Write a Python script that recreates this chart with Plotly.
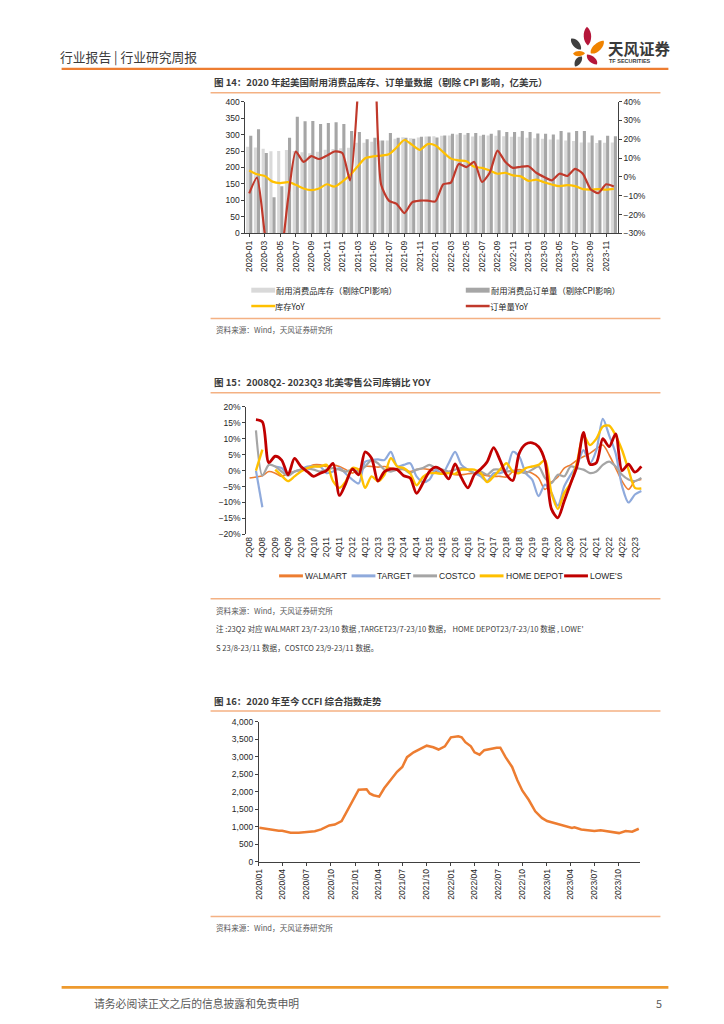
import plotly.graph_objects as go

W, H = 724, 1024
CJK = "Noto Sans CJK SC"
NUM = "Liberation Sans"


def px(x):
    return x / W


def py(y):
    return 1 - y / H


# ---------------- Chart 1 data (figure 14) ----------------
months = [f"{y}-{m:02d}" for y in range(2020, 2024) for m in range(1, 13)]
month_ticks = months[::2]
inv_level = [263, 261, 257, 249, 250, 253, 250, 246, 243, 248, 254, 256,
             258, 260, 275, 275, 278, 282, 282, 287, 292, 289, 291, 294,
             295, 296, 297, 300, 299, 294, 296, 297, 296, 295, 293, 293,
             290, 289, 287, 285, 285, 282, 280, 276, 276, 274, 275, 276]
order_level = [296, 316, 244, 110, 143, 290, 354, 340, 341, 332, 335, 337,
               332, 311, 308, 286, 290, 282, 305, 290, 290, 287, 293, 294,
               291, 297, 302, 305, 305, 305, 299, 302, 313, 308, 308, 311,
               308, 303, 302, 300, 311, 306, 311, 311, 297, 283, 296, 295]
inv_yoy = [3.4, 1.4, 0.5, -2.5, -3.3, -2.8, -4.2, -6.1, -7.0, -6.1, -3.9, -5.1,
           -2.5, 1.0, 5.7, 10.0, 10.9, 11.3, 12.0, 15.6, 19.6, 17.0, 14.4, 17.4,
           16.7, 13.2, 9.7, 8.8, 8.3, 5.4, 4.8, 3.4, 1.7, 2.2, 0.8, 0.3,
           -2.1, -1.4, -2.8, -4.0, -4.9, -4.4, -4.9, -6.5, -6.7, -6.5, -6.7, -6.3]
order_yoy = [-8.7, -0.4, -30.0, -56.0, -45.0, -12.0, 13.5, 8.0, 11.0, 9.5, 11.3, 13.5,
             12.7, -1.8, 45.0, 160.0, 100.0, -4.0, -12.6, -14.3, -19.2, -13.5, -12.6, -12.6,
             -13.0, -4.0, -3.0, 6.9, 5.2, 8.0, -2.7, 2.2, 14.0, 8.0, 4.8, 5.4,
             5.7, 2.2, 0.0, -1.8, 1.7, 0.5, 4.3, 1.7, -6.5, -8.6, -3.9, -5.1]

# ---------------- Chart 2 data (figure 15) ----------------
quarters = (["2Q08", "3Q08", "4Q08"]
            + [f"{q}Q{y:02d}" for y in range(9, 23) for q in range(1, 5)]
            + ["1Q23", "2Q23", "3Q23"])
quarter_ticks = quarters[::2]
walmart = [-2.3, -2.0, -1.6, -0.3, -0.8, -1.8, -0.8, -0.3, 0.3, 1.0, 1.8, 1.8,
           1.3, 1.8, 1.3, 0.3, -0.8, 0.3, 1.3, 1.3, 1.1, 1.3, 0.8, 0.5,
           0.3, -0.3, 0.3, 0.6, 0.3, -0.3, -0.8, -0.8, -1.3, -1.3, -1.0, -0.8,
           -1.1, -1.6, -1.8, -1.8, -2.0, -0.3, 0.3, -0.3, -0.8, -2.3, -5.9, -3.6,
           -2.0, 0.8, 1.8, 3.3, 4.4, 5.4, 6.9, 8.0, 4.9, 0.8, -3.3, -5.9,
           -3.3, -2.8]
target = [None, 0.0, -11.5, None, 1.3, 0.8, -1.3, -0.3, 0.3, 1.3, 1.3, 1.3,
          -0.8, -0.3, 0.8, -1.0, -2.8, -4.0, 2.8, 3.3, 3.5, 3.3, 5.9, 1.3,
          1.8, 2.3, -1.8, -3.6, -2.8, 0.3, -1.0, 2.3, 5.9, 1.8, 0.3, -0.8,
          -1.8, -3.3, -0.8, -0.8, 0.3, 5.9, 4.4, -0.8, -2.8, -8.0, -4.4, -7.0,
          -11.0, -4.9, -1.3, 1.8, 6.4, 2.3, 6.4, 16.2, 11.0, 5.4, -4.9, -10.0,
          -7.5, -6.4]
costco = [None, 12.6, -1.6, 1.8, 1.3, -0.3, -1.6, -0.3, 0.3, 0.6, 0.3, -0.3,
          0.3, 0.8, 0.3, -0.3, 0.3, -0.3, 1.3, 3.3, 2.3, 0.3, -0.3, 0.3,
          0.5, -0.8, 0.3, 0.8, 1.8, 0.8, 0.3, -0.3, 0.3, 0.8, 0.3, -0.8,
          -0.3, -1.3, 0.3, 0.3, -0.3, 0.0, -0.3, -0.8, 0.3, 1.3, -2.3, -3.9,
          -1.3, -1.8, 1.3, 0.8, 0.3, -0.8, -0.3, 1.8, 2.8, 1.3, -1.3, -2.8,
          -3.3, -2.3]
home_depot = [None, 0.0, 6.6, None, 0.3, -1.6, -3.3, -1.8, -0.3, 0.8, 1.3, 1.3,
              1.8, -3.3, -5.4, -3.3, 0.8, 0.3, -5.4, -1.8, -3.3, -1.3, 3.9, 1.3,
              0.8, -0.8, -4.6, -2.0, -0.8, -0.8, -1.0, -0.8, -1.0, 0.3, 0.3, 0.3,
              -0.8, -3.6, -1.8, 0.3, 2.3, -0.3, -0.8, 0.8, 1.3, 1.8, 3.3, -7.0,
              -12.0, -7.0, -3.9, 2.8, 11.0, 8.0, 10.0, 13.8, 14.1, 11.0, 6.4, 0.3,
              -5.4, -5.6]
lowes = [None, 16.0, 15.3, 2.5, 4.5, 3.3, -1.3, 3.8, 1.3, -0.3, -1.8, -0.8,
         0.0, 2.3, -7.8, -3.9, 0.5, -1.3, 5.9, 3.9, -3.3, -0.3, 0.5, 0.3,
         -1.6, -2.3, -7.1, -3.9, -0.3, 1.1, 0.0, -2.6, 2.1, -2.3, -5.4, -1.3,
         0.5, 2.8, 7.2, 3.3, -1.3, -3.1, 5.5, 8.3, 8.7, 7.5, 3.0, -12.0,
         -14.8, -9.5, -4.0, 1.5, 12.0, 2.0, 2.5, 10.0, 7.5, 11.5, 0.0, 2.0,
         -0.5, 1.3]

# ---------------- Chart 3 data (figure 16) ----------------
ccfi_dates = ["2020-01-03", "2020-01-28", "2020-02-16", "2020-03-17", "2020-03-30",
              "2020-04-18", "2020-05-01", "2020-06-01", "2020-07-02", "2020-08-01",
              "2020-08-25", "2020-09-25", "2020-10-16", "2020-10-30", "2020-11-11",
              "2020-11-25", "2020-12-10", "2020-12-25", "2021-01-08", "2021-01-15",
              "2021-02-14", "2021-02-26", "2021-03-12", "2021-04-03", "2021-04-22",
              "2021-05-15", "2021-06-10", "2021-06-30", "2021-07-18", "2021-08-12",
              "2021-09-13", "2021-10-01", "2021-10-26", "2021-11-15", "2021-12-09",
              "2022-01-01", "2022-01-29", "2022-02-11", "2022-02-25", "2022-03-18",
              "2022-04-01", "2022-04-20", "2022-05-08", "2022-06-03", "2022-06-24",
              "2022-07-08", "2022-07-28", "2022-08-22", "2022-09-11", "2022-09-30",
              "2022-10-24", "2022-11-18", "2022-12-13", "2023-01-02", "2023-01-20",
              "2023-02-10", "2023-03-10", "2023-04-07", "2023-04-16", "2023-05-12",
              "2023-06-06", "2023-07-01", "2023-07-25", "2023-09-02", "2023-10-03",
              "2023-10-28", "2023-11-22", "2023-12-17"]
ccfi_values = [969, 941, 903, 885, 885,
               856, 828, 828, 856, 870,
               922, 1035, 1060, 1110, 1160,
               1350, 1550, 1760, 1970, 2060,
               2070, 1950, 1900, 1860, 2100,
               2330, 2570, 2710, 2990, 3130,
               3260, 3320, 3275, 3210, 3300,
               3560, 3590, 3560, 3420, 3300,
               3130, 3060, 3190, 3240, 3260,
               3260, 2990, 2710, 2330, 2030,
               1770, 1440, 1250, 1160, 1120,
               1080, 1010, 965, 980, 920,
               900, 875, 895, 855, 815,
               875, 855, 940]

# ---------------- colours ----------------
C_LIGHT = "#D9D9D9"
C_DARK = "#A6A6A6"
C_YEL = "#FFC000"
C_RED1 = "#C0392B"
C_WAL = "#ED7D31"
C_TGT = "#8FAADC"
C_CST = "#A5A5A5"
C_HD = "#FFC000"
C_LOW = "#C00000"
C_AX = "#404040"
C_SEP = "#F4B183"

fig = go.Figure()

# Chart 1 traces
fig.add_trace(go.Bar(x=months, y=inv_level, marker_color=C_LIGHT, marker_line_width=0,
                     xaxis="x", yaxis="y", offsetgroup="a", name="耐用消费品库存（剔除CPI影响）"))
fig.add_trace(go.Bar(x=months, y=order_level, marker_color=C_DARK, marker_line_width=0,
                     xaxis="x", yaxis="y", offsetgroup="b", name="耐用消费品订单量（剔除CPI影响）"))
fig.add_trace(go.Scatter(x=months, y=inv_yoy, mode="lines", xaxis="x", yaxis="y2",
                         line=dict(color=C_YEL, width=2.2, shape="spline", smoothing=0.8),
                         name="库存YoY"))
fig.add_trace(go.Scatter(x=months, y=order_yoy, mode="lines", xaxis="x", yaxis="y2",
                         line=dict(color=C_RED1, width=2.2, shape="spline", smoothing=0.6),
                         name="订单量YoY"))

# Chart 2 traces
for vals, col, wid, nm in [(walmart, C_WAL, 1.6, "WALMART"), (target, C_TGT, 2.2, "TARGET"),
                           (costco, C_CST, 2.2, "COSTCO"), (home_depot, C_HD, 2.4, "HOME DEPOT"),
                           (lowes, C_LOW, 2.8, "LOWE'S")]:
    fig.add_trace(go.Scatter(x=quarters, y=vals, mode="lines", xaxis="x3", yaxis="y3",
                             connectgaps=False,
                             line=dict(color=col, width=wid, shape="spline", smoothing=0.8),
                             name=nm))

# Chart 3 trace
fig.add_trace(go.Scatter(x=ccfi_dates, y=ccfi_values, mode="lines", xaxis="x4", yaxis="y4",
                         line=dict(color=C_WAL, width=2.5), name="CCFI"))

tickfont = dict(family=NUM, size=8.5, color="#262626")

c1 = dict(l=242, r=617, t=97.5, b=230.7)
c2 = dict(l=243, r=644, t=405.8, b=534.6)
c3 = dict(l=255.6, r=639.5, t=724, b=865)

zero_y2 = c2["t"] + (c2["b"] - c2["t"]) * 0.5

fig.update_layout(
    width=W, height=H, margin=dict(l=0, r=0, t=0, b=0),
    paper_bgcolor="white", plot_bgcolor="white", showlegend=False,
    barmode="group", bargap=0.2, bargroupgap=0.0,
    font=dict(family=CJK, size=9, color="#262626"),
    xaxis=dict(domain=[px(c1["l"]), px(c1["r"])], anchor="y", type="category",
               tickvals=month_ticks, tickangle=-90, tickfont=tickfont,
               showline=True, linecolor=C_AX, linewidth=1, ticks="outside", ticklen=3,
               tickcolor=C_AX, showgrid=False, range=[-0.5, 47.5]),
    yaxis=dict(domain=[py(c1["b"]), py(c1["t"])], anchor="x", range=[0, 400], dtick=50,
               tickfont=tickfont, showline=True, linecolor=C_AX, ticks="outside",
               ticklen=3, tickcolor=C_AX, showgrid=False, zeroline=False),
    yaxis2=dict(overlaying="y", side="right", anchor="x", range=[-30, 40], dtick=10,
                ticksuffix="%", tickfont=tickfont, showline=True, linecolor=C_AX,
                ticks="outside", ticklen=3, tickcolor=C_AX, showgrid=False, zeroline=False),
    xaxis3=dict(domain=[px(c2["l"]), px(c2["r"])], anchor="y3", type="category",
                tickvals=quarter_ticks, tickangle=-90, tickfont=tickfont,
                showline=False, ticks="", showgrid=False, range=[-0.5, 61.5]),
    xaxis5=dict(overlaying="x3", anchor="free", position=py(zero_y2), range=[-0.5, 61.5],
                showline=True, linecolor=C_AX, linewidth=1, ticks="outside", ticklen=3,
                tickcolor=C_AX, tickvals=[i + 0.5 for i in range(-1, 61, 2)],
                showticklabels=False, showgrid=False, zeroline=False),
    yaxis3=dict(domain=[py(c2["b"]), py(c2["t"])], anchor="x3", range=[-20, 20], dtick=5,
                ticksuffix="%", tickfont=tickfont, showline=True, linecolor=C_AX,
                ticks="outside", ticklen=3, tickcolor=C_AX, showgrid=False, zeroline=False),
    xaxis4=dict(domain=[px(c3["l"]), px(c3["r"])], anchor="y4", type="date",
                range=["2020-01-01", "2023-12-22"], dtick="M3", tick0="2020-01-01",
                tickformat="%Y/%m", tickangle=-90, tickfont=tickfont,
                showline=True, linecolor=C_AX, ticks="outside", ticklen=3,
                tickcolor=C_AX, showgrid=False),
    yaxis4=dict(domain=[py(c3["b"]), py(c3["t"])], anchor="x4", range=[0, 4000], dtick=500,
                tickformat=",", tickfont=tickfont, showline=True, linecolor=C_AX,
                ticks="outside", ticklen=3, tickcolor=C_AX, showgrid=False, zeroline=False),
)

shapes = []
annotations = []


def hline(x0, x1, y, color, width):
    shapes.append(dict(type="line", xref="paper", yref="paper", x0=px(x0), x1=px(x1),
                       y0=py(y), y1=py(y), line=dict(color=color, width=width)))


def rect(x0, x1, y0, y1, color):
    shapes.append(dict(type="rect", xref="paper", yref="paper", x0=px(x0), x1=px(x1),
                       y0=py(y1), y1=py(y0), fillcolor=color, line=dict(width=0)))


def text(x, y, s, size=9, color="#262626", family=CJK, xanchor="left"):
    annotations.append(dict(x=px(x), y=py(y), xref="paper", yref="paper", text=s,
                            showarrow=False, xanchor=xanchor, yanchor="middle",
                            font=dict(size=size, color=color, family=family)))


def petal(pts, color):
    (x0, y0), (a1, b1), (a2, b2), (x3, y3), (a4, b4), (a5, b5) = pts
    path = (f"M {px(x0)},{py(y0)} C {px(a1)},{py(b1)} {px(a2)},{py(b2)} {px(x3)},{py(y3)} "
            f"C {px(a4)},{py(b4)} {px(a5)},{py(b5)} {px(x0)},{py(y0)} Z")
    shapes.append(dict(type="path", xref="paper", yref="paper", path=path,
                       fillcolor=color, line=dict(width=0)))


# Header
text(53, 52, "行业报告 | 行业研究周报", size=12.8, color="#3A3A3A")
hline(57, 668, 64.5, "#ED7D31", 2.2)
petal([(586, 22), (592, 27), (591, 37), (587, 41), (582, 37), (581, 27)], "#B5163A")
petal([(570, 34), (576, 33), (581, 40), (580, 45), (574, 45), (569, 39)], "#3F3F3F")
petal([(603, 36), (604, 42), (597, 50), (590, 49), (588, 44), (596, 36)], "#F08300")
petal([(572, 49), (575, 45), (583, 46), (584, 49), (580, 53), (573, 52)], "#F08300")
petal([(586, 50), (592, 50), (598, 56), (596, 60), (590, 60), (585, 55)], "#B5163A")
petal([(574, 62), (572, 57), (576, 51), (581, 52), (582, 57), (578, 62)], "#3F3F3F")
text(605, 43, "<b>天风证券</b>", size=15.5, color="#3A3A3A")
text(606, 57, "<b>TF SECURITIES</b>", size=5.5, color="#3A3A3A", family=NUM)

# Chart 1 texts
text(208, 78, "<b>图 14：2020 年起美国耐用消费品库存、订单量数据（剔除 CPI 影响，亿美元）</b>",
     size=9.5, color="#3A3A3A")
hline(207, 660, 88.5, C_SEP, 1.5)
rect(248, 272, 285.5, 290.5, C_LIGHT)
text(271, 288, "耐用消费品库存（剔除CPI影响）", size=8.3)
rect(464, 488, 285.5, 290.5, C_DARK)
text(487, 288, "耐用消费品订单量（剔除CPI影响）", size=8.3)
hline(248, 272, 304, C_YEL, 2.5)
text(270, 304, "库存YoY", size=8.3)
hline(464, 488, 304, C_RED1, 2.5)
text(486, 304, "订单量YoY", size=8.3)
hline(207, 660, 316.5, C_SEP, 1.5)
text(210, 328, "资料来源：Wind，天风证券研究所", size=7.6, color="#595959")

# Chart 2 texts
text(208, 381, "<b>图 15：2008Q2- 2023Q3 北美零售公司库销比 YOY</b>", size=9.5, color="#3A3A3A")
hline(207, 660, 391.5, C_SEP, 1.5)
for x0, col, lab in [(276, C_WAL, "WALMART"), (349, C_TGT, "TARGET"), (411, C_CST, "COSTCO"),
                     (478, C_HD, "HOME DEPOT"), (563, C_LOW, "LOWE'S")]:
    hline(x0, x0 + 24, 576.5, col, 3)
    text(x0 + 24, 577, lab, size=8.5, family=NUM)
hline(207, 660, 599.5, C_SEP, 1.5)
text(210, 611, "资料来源：Wind，天风证券研究所", size=7.6, color="#595959")
text(210, 630, "注 :23Q2 对应 WALMART 23/7-23/10 数据 ,TARGET23/7-23/10 数据， HOME DEPOT23/7-23/10 数据 , LOWE'",
     size=7.6, color="#404040")
text(210, 649, "S 23/8-23/11 数据，COSTCO 23/9-23/11 数据。", size=7.6, color="#404040")

# Chart 3 texts
text(208, 703, "<b>图 16：2020 年至今 CCFI 综合指数走势</b>", size=9.5, color="#3A3A3A")
hline(207, 660, 713, C_SEP, 1.5)
hline(207, 660, 920.5, C_SEP, 1.5)
text(210, 932, "资料来源：Wind，天风证券研究所", size=7.6, color="#595959")

# Footer
hline(57, 668, 992, "#EE9A2E", 2.8)
text(88, 1008, "请务必阅读正文之后的信息披露和免责申明", size=10.8, color="#595959")
text(664, 1008, "5", size=10.8, color="#595959", xanchor="right")

fig.update_layout(shapes=shapes, annotations=annotations)
fig.write_html("out.html", config={"displayModeBar": False},
               post_script="document.body.style.margin='0';document.body.style.padding='0';")
